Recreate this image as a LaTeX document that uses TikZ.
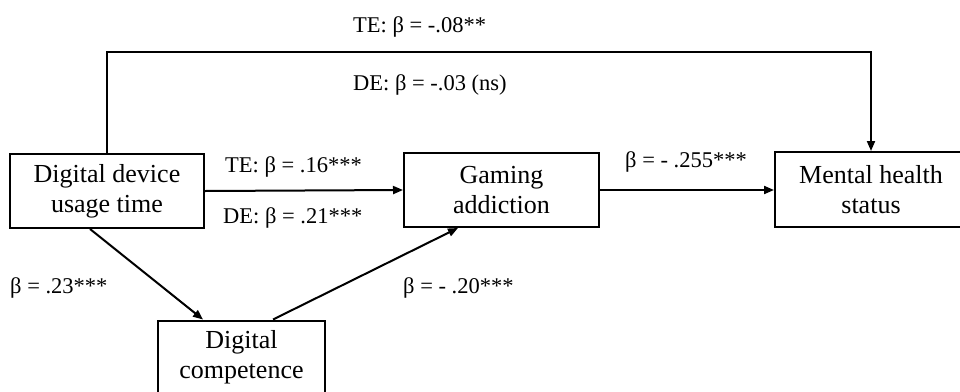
\documentclass[tikz,border=0pt]{standalone}
\usepackage{fontspec}
\setmainfont{Liberation Serif}
\usetikzlibrary{arrows.meta,calc}
\tikzset{
  box/.style={draw, line width=2pt, minimum width=194pt, minimum height=74pt, align=center, inner sep=0pt, font=\fontsize{26}{30}\selectfont},
  lbl/.style={anchor=base west, inner sep=0pt, font=\fontsize{22.5}{26}\selectfont},
  arr/.style={line width=2pt, -{Triangle[length=10pt,width=8pt]}},
}
\begin{document}
\begin{tikzpicture}[x=1pt,y=-1pt]
\useasboundingbox (0,0) rectangle (960,391);
\node[box] (dev) at (107,191) {Digital device\\usage time};
\node[box, minimum width=195pt] (gam) at (501.5,190) {Gaming\\addiction};
\node[box, minimum width=192pt, minimum height=75pt] (men) at (871,189.5) {Mental health\\status};
\node[box, minimum width=167pt] (comp) at (241.5,357.5) {Digital\\competence};

\draw[arr] (dev.east) -- (gam.west);
\draw[arr] (gam.east) -- (gam.east -| men.west);
\draw[arr] (dev.north) -- ++(0,-101) -| (men.north);
\draw[arr] ([xshift=-17pt]dev.south) -- ([xshift=-38.5pt]comp.north);
\draw[arr] ([xshift=31.5pt]comp.north) -- ([xshift=-43.5pt]gam.south);

\node[lbl] (te1) at (353,32) {TE: β = -.08**};
\node[lbl] (de1) at (353,90) {DE: β = -.03 (ns)};
\node[lbl] (te2) at (225,172) {TE: β = .16***};
\node[lbl] (de2) at (223,223) {DE: β = .21***};
\node[lbl] (b255) at (625,167) {β = - .255***};
\node[lbl] (b23) at (10,293) {β = .23***};
\node[lbl] (b20) at (403,293) {β = - .20***};
\end{tikzpicture}
\end{document}
